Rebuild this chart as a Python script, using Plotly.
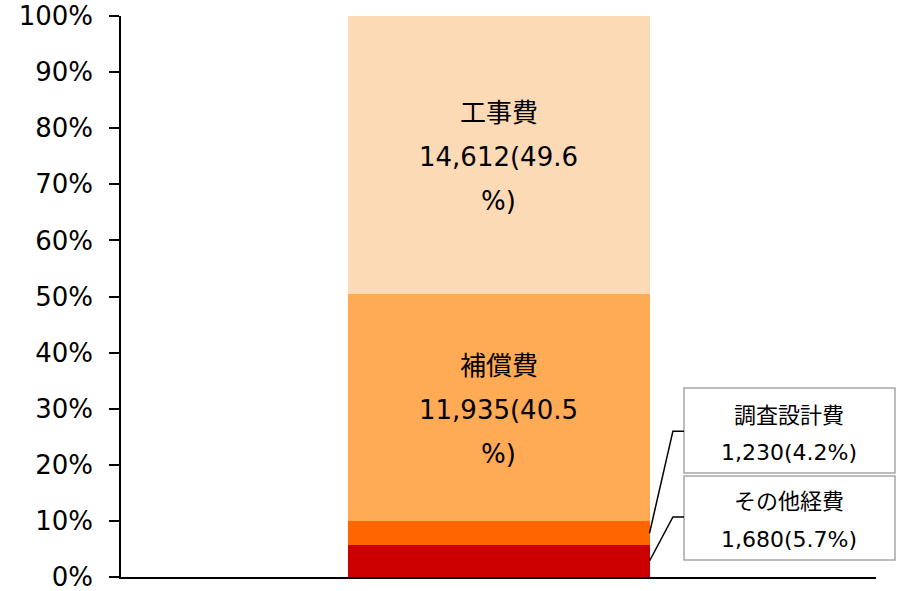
import plotly.graph_objects as go

# Data (bottom to top)
categories = ["その他経費", "調査設計費", "補償費", "工事費"]
amounts = [1680, 1230, 11935, 14612]
percents = [5.7, 4.2, 40.5, 49.6]
colors = ["#CC0000", "#FF6600", "#FFAA55", "#FDDAB6"]
y_ticks = [0, 10, 20, 30, 40, 50, 60, 70, 80, 90, 100]

FONT = "DejaVu Sans, Noto Sans CJK JP, sans-serif"
BAR_W = 0.4

fig = go.Figure()
for name, pct, col in zip(categories, percents, colors):
    fig.add_trace(go.Bar(x=[0], y=[pct], name=name, marker=dict(color=col, line=dict(width=0)),
                         width=BAR_W, hoverinfo="skip"))

# cumulative positions
bottoms = []
acc = 0
for p in percents:
    bottoms.append(acc)
    acc += p
mids = [b + p / 2 for b, p in zip(bottoms, percents)]

annotations = []
shapes = []
# inner labels for large segments (wrapped like the reference)
for i in (2, 3):
    lines = [categories[i], f"{amounts[i]:,}({percents[i]}", "%)"]
    for j, t in enumerate(lines):
        annotations.append(dict(x=0, y=mids[i], xref="x", yref="y", text=t, showarrow=False,
                                yshift=42 - 44 * j, font=dict(family=FONT, size=26, color="#000000"),
                                xanchor="center", yanchor="middle"))

# callout boxes for small segments (layout positions in paper coords)
# (box y0, box y1, line1 y, line2 y)
box_specs = {1: (0.1854, 0.3369, 0.287, 0.2228), 0: (0.0303, 0.1800, 0.1337, 0.066)}
BOX_X0, BOX_X1, BOX_XC = 0.7457, 1.0252, 0.8852
for i, (y0, y1, ly1, ly2) in box_specs.items():
    shapes.append(dict(type="rect", xref="paper", yref="paper", x0=BOX_X0, x1=BOX_X1, y0=y0, y1=y1,
                       line=dict(color="#A6A6A6", width=1.5), fillcolor="white", layer="above"))
    for t, ly in ((categories[i], ly1), (f"{amounts[i]:,}({percents[i]}%)", ly2)):
        annotations.append(dict(x=BOX_XC, y=ly, xref="paper", yref="paper", text=t, showarrow=False,
                                font=dict(family=FONT, size=22, color="#000000"),
                                xanchor="center", yanchor="middle"))

# leader lines (data coordinates of the axis)
leader = {1: 26.0, 0: 10.7}
for i, ybend in leader.items():
    shapes.append(dict(type="path", xref="x", yref="y",
                       path=f"M {BAR_W/2},{mids[i]} L 0.231,{ybend} L 0.2457,{ybend}",
                       line=dict(color="#000000", width=1.5)))

fig.update_layout(
    width=901, height=591,
    margin=dict(l=121, r=25, t=16, b=14),
    barmode="stack",
    showlegend=False,
    plot_bgcolor="white", paper_bgcolor="white",
    annotations=annotations, shapes=shapes,
    xaxis=dict(range=[-0.5, 0.5], showticklabels=False, ticks="", showgrid=False, zeroline=False,
               showline=True, linecolor="#000000", linewidth=1.5, automargin=False, fixedrange=True),
    yaxis=dict(range=[0, 100], tickvals=y_ticks, ticktext=[f"{v}%" for v in y_ticks],
               ticks="outside", ticklen=10, tickcolor="#000000", tickwidth=1.5,
               showgrid=False, zeroline=False, showline=True, linecolor="#000000", linewidth=1.5,
               tickfont=dict(family=FONT, size=26, color="#000000"), ticklabelstandoff=11,
               ticklabeloverflow="allow", automargin=False, fixedrange=True),
)

fig.write_html("out.html", config={"displayModeBar": False},
               post_script="document.body.style.margin='0';")
